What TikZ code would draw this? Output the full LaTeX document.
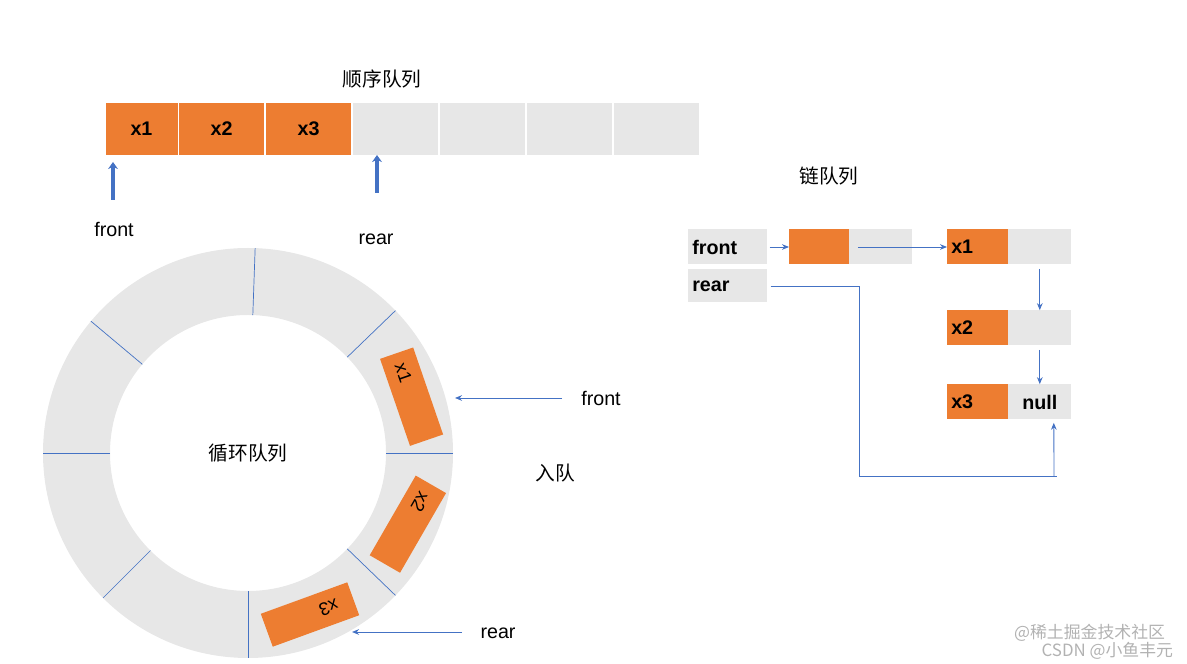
\documentclass[tikz,border=0pt]{standalone}
\usepackage{fontspec}
\setmainfont{Liberation Sans}
\newfontfamily\cjk{Noto Sans CJK SC}
\usetikzlibrary{arrows.meta,calc}
\definecolor{org}{HTML}{ED7D31}
\definecolor{gry}{HTML}{E7E7E7}
\definecolor{blu}{HTML}{4472C4}
\begin{document}
\begin{tikzpicture}[x=0.025cm,y=0.025cm,
  cell/.style={draw=none,inner sep=0,minimum height=35*0.025cm,font=\fontsize{14}{16}\selectfont\bfseries},
  og/.style={cell,fill=org},
  gy/.style={cell,fill=gry},
  tcell/.style={inner sep=0,minimum height=52*0.025cm,font=\fontsize{14}{16}\selectfont\bfseries},
  ar/.style={blu,-{Stealth[length=5pt,width=4pt]},line width=0.6pt},
  lbl/.style={font=\fontsize{14}{16}\selectfont},
  cj/.style={font=\cjk\fontsize{14}{16}\selectfont},
  ringbox/.style={fill=org,minimum width=92*0.025cm,minimum height=35*0.025cm,inner sep=0}]
\useasboundingbox (0,0) rectangle (1187,663);
% sequential queue
\node[cj] (t1) at (382,584) {顺序队列};
\node[tcell,fill=org,minimum width=72*0.025cm] (a1) at (141.5,534) {x1};
\node[tcell,fill=org,minimum width=85*0.025cm] (a2) at (221.5,534) {x2};
\node[tcell,fill=org,minimum width=85*0.025cm] (a3) at (308.5,534) {x3};
\node[tcell,fill=gry,minimum width=85*0.025cm] (a4) at (395.5,534) {};
\node[tcell,fill=gry,minimum width=85*0.025cm] (a5) at (482.5,534) {};
\node[tcell,fill=gry,minimum width=85*0.025cm] (a6) at (569.5,534) {};
\node[tcell,fill=gry,minimum width=85*0.025cm] (a7) at (656.5,534) {};
\coordinate (f0) at (113,463);
\coordinate (r0) at (377,470);
\draw[blu,line width=2.5pt,-{Stealth[length=5pt,width=7pt]}] (f0) -- (113,501);
\draw[blu,line width=2.5pt,-{Stealth[length=5pt,width=7pt]}] (r0) -- (377,508);
\node[lbl] (fl) at (114,434) {front};
\node[lbl] (rl) at (376,424) {rear};
% ring
\fill[gry,even odd rule] (248,210) circle (205) (248,210) circle (138);
\foreach \a in {-135,-90,-44,0,44,88,140,180}
  \draw[blu,line width=0.5pt] (248,210) ++(\a:138) -- ++(\a:67);
\node[cj] (rc) at (248,210) {循环队列};
\node[ringbox,rotate=-71] (b1) at ($(248,210)+(19:173)$) {};
\node[rotate=-71,font=\fontsize{13}{15}\selectfont] at ($(b1)+(-71:-25)$) {x1};
\node[ringbox,rotate=-120] (b2) at ($(248,210)+(-24:175)$) {};
\node[rotate=-120,font=\fontsize{13}{15}\selectfont] at ($(b2)+(-120:-25)$) {x2};
\node[ringbox,rotate=200] (b3) at ($(248,210)+(-69:173)$) {};
\node[rotate=200,font=\fontsize{13}{15}\selectfont] at ($(b3)+(200:-20)$) {x3};
\node[lbl] (fr) at (601,265) {front};
\coordinate (fa) at (562,265);
\draw[ar] (fa) -- (455,265);
\node[cj] (rq) at (555,190) {入队};
\node[lbl] (rr) at (498,30) {rear};
\coordinate (ra) at (462,31);
\draw[ar] (ra) -- (352,31);
% linked queue
\node[cj] (t2) at (829,487) {链队列};
\node[gy,minimum width=79*0.025cm,anchor=west,text width=71*0.025cm,align=left] (fc) at (688,416) {front};
\node[gy,minimum width=79*0.025cm,minimum height=33*0.025cm,anchor=west,text width=71*0.025cm,align=left] (rc2) at (688,377) {rear};
\node[og,minimum width=60*0.025cm,anchor=west] (n0) at (789,416) {};
\node[gy,minimum width=63*0.025cm,anchor=west] (n0p) at (849,416) {};
\node[og,minimum width=61*0.025cm,anchor=west,text width=53*0.025cm,align=left] (n1) at (947,416) {x1};
\node[gy,minimum width=63*0.025cm,anchor=west] (n1p) at (1008,416) {};
\node[og,minimum width=61*0.025cm,anchor=west,text width=53*0.025cm,align=left] (n2) at (947,335) {x2};
\node[gy,minimum width=63*0.025cm,anchor=west] (n2p) at (1008,335) {};
\node[og,minimum width=61*0.025cm,anchor=west,text width=53*0.025cm,align=left] (n3) at (947,261) {x3};
\node[gy,minimum width=63*0.025cm,anchor=west] (n3p) at (1008,261) {null};
\draw[ar] (fc.east) ++(2,0) -- (n0.west);
\draw[ar] (n0p.center) ++(-23,0) -- (n1.west);
\draw[ar] (n1p.south) ++(0,-4) -- (n2p.north);
\draw[ar] (n2p.south) ++(0,-4) -- (n3p.north);
\coordinate (rb) at (859,187);
\coordinate (re) at (1057,187);
\draw[blu,line width=0.6pt] (rc2.east) ++(3,0) -| (rb) -- (re);
\draw[ar] (1054,187) -- ($(n3p.south)+(14,-3)$);
% watermark
\node[font=\cjk\fontsize{12}{14}\selectfont,text=gray!60,anchor=east] (w1) at (1170,30) {@稀土掘金技术社区};
\node[font=\cjk\fontsize{12}{14}\selectfont,text=gray!60,anchor=east] (w2) at (1178,12) {CSDN @小鱼丰元};
\end{tikzpicture}
\end{document}
